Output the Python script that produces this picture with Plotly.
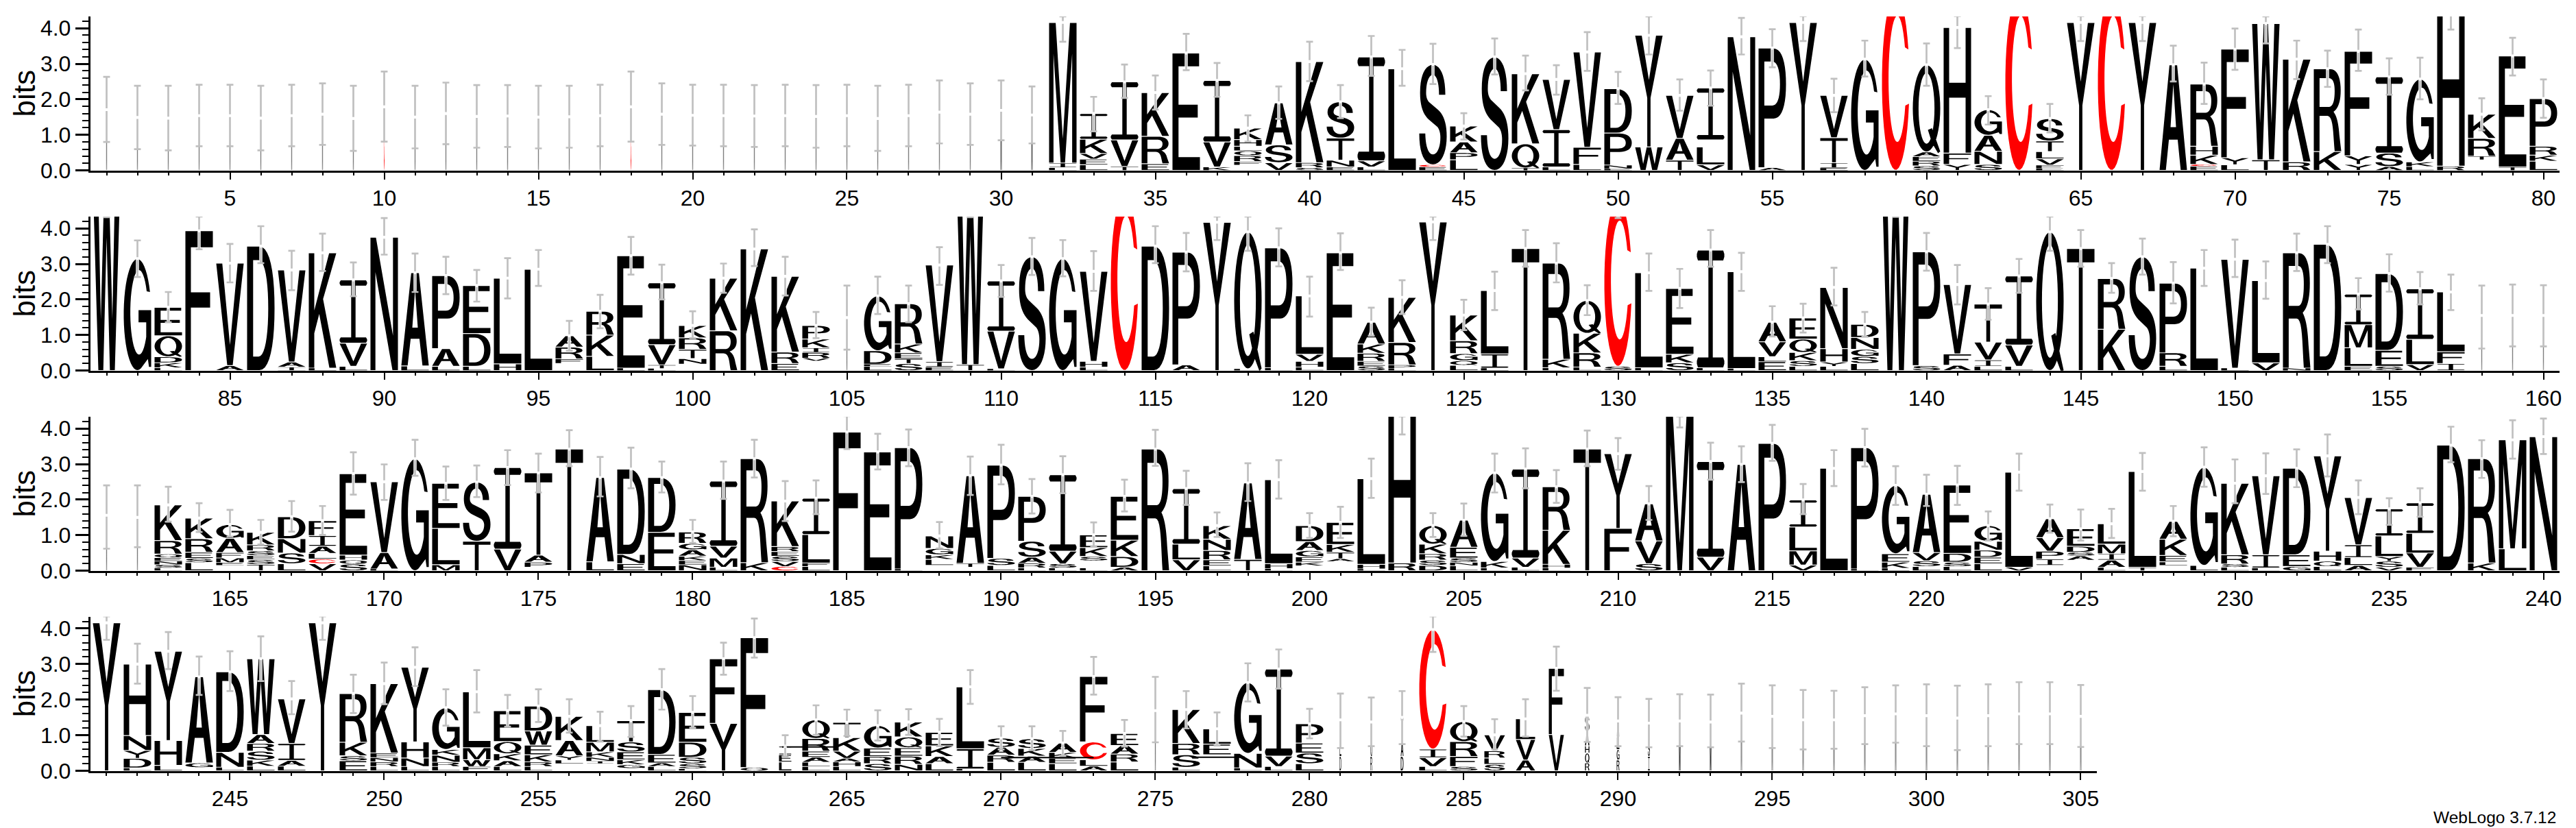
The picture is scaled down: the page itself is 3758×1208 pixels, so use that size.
import math
import plotly.graph_objects as go

# ---------------------------------------------------------------- data
# one string per position, letters listed bottom-to-top (" " = empty gap in the stack)
r1_letters = ["M","M","M","M","M","M","M","M","M","C","M","M","M","M","M","M","M","C","M","M","M","M","M","M","M","M","M","M","M","M","M",
 "LIM","LEVKI","TVI","ERK","E","KVI"," FRQLHK","VSA","SRK","ENTS","LVI","L","ECS","LPAK","S","TQK","LIV","LFV","ENPD","WY","TAV","VL I","N","AP","Y","EITV","G","C","SREAQ","YFH","SNAG","C","EFVLTS","Y","C","Y","A","ECKHR","LYF","TW","RK","KR","YYF","ASI","LKG","RH"," TRK","TE","LKRP"]
r1_bits = [[1.71],[1.49],[1.47],[1.54],[1.54],[1.47],[1.54],[1.58],[1.46],[1.79],[1.5],[1.6],[1.52],[1.53],[1.5],[1.51],[1.54],[1.79],[1.58],[1.55],[1.54],[1.53],[1.54],[1.52],[1.54],[1.46],[1.54],[1.64],[1.58],[1.69],[1.56],
 [.08,.13,3.95],[.16,.16,.16,.4,.72],[.11,.75,1.63],[.19,.77,1.23],[3.3],[.1,.7,1.73],[.15,.1,.17,.13,.13,.19,.32],[.22,.5,1.18],[.08,.14,2.84],[.1,.19,.62,1.02],[.1,.17,2.92],[2.86],[.1,.06,2.82],[.3,.2,.3,.45],[3.19],[.07,.68,1.97],[.1,1.05,1.41],[.17,.48,2.68],[.05,.1,.9,1.25],[.66,3.14],[.29,.61,1.21],[.16,.5,.2,1.46],[3.76],[.08,3.36],[4.16],[.07,.15,.7,1.19],[3.13],[4.95],[.13,.13,.13,.13,2.45],[.17,.32,3.53],[.17,.37,.45,.72],[4.95],[.06,.09,.18,.2,.3,.63],[4.16],[4.95],[4.16],[2.97],[.12,.05,.26,.25,1.75],[.16,.2,3.05],[.3,3.83],[.24,2.89],[.53,2.33],[.17,.24,2.94],[.11,.38,2.14],[.11,.13,2.33],[.12,4.36],[.3,.1,.5,.68],[.1,3.12],[.26,.17,.25,1.34]]
r1_high = [2.63,2.38,2.38,2.41,2.41,2.38,2.41,2.45,2.38,2.78,2.38,2.47,2.40,2.40,2.38,2.38,2.41,2.78,2.45,2.41,2.41,2.40,2.41,2.40,2.41,2.38,2.41,2.53,2.45,2.53,2.36,
 4.33,2.07,2.98,2.67,3.84,3.02,1.55,2.36,3.62,2.40,3.78,3.39,3.56,1.61,3.71,3.23,2.96,3.89,2.77,4.33,2.56,2.81,4.29,3.97,4.34,2.58,3.65,5.4,3.57,4.34,2.09,5.4,1.87,4.34,5.4,4.34,3.51,3.03,3.99,4.33,3.65,3.37,3.96,3.15,3.17,4.9,2.03,3.73,2.56]
r1_low = [.80,.60,.565,.68,.68,.565,.68,.72,.55,.81,.62,.74,.64,.66,.62,.64,.68,.81,.72,.70,.68,.66,.68,.64,.68,.55,.68,.76,.72,.85,.76,
 3.62,1.10,2.04,1.71,2.82,2.07,.81,1.45,2.51,1.47,2.66,2.38,2.43,.87,2.70,2.25,2.13,2.80,1.87,3.26,1.68,1.82,3.26,2.90,3.64,1.64,2.64,4.47,2.38,3.44,1.29,4.47,1.07,3.64,4.47,3.64,2.5,1.87,2.83,3.57,2.57,2.35,2.80,2.13,2.0,3.96,1.13,2.67,1.48]

r2_letters = ["W","G","LKDQE","F","AV","D","IAV","LK","LVI","N","LA","LAP","LDE","HL","L"," FRA","LKR","LE","LTVI"," NTRK","RK","K","ERK"," VRIKP","M","LEDG","STEKR","EIV","TW","LVI","S","G","LHV","C","D","AP","Y","LQ","LP","LHVL","E","SERKA","LPRK","Y","LQGRK","LIL","T","LKR","LRKQ","SC","LL","SKE","LI","LL","ELVA","LSKQE","LYHN","LSGND","W","SP","AFV","LIVT","LVI","Q","T","KR","S","LRP","L","LV","VL","NR","D","ELMI","SED","VLI","IFL","M","M","M"]
r2_bits = [[5.35],[3.15],[.08,.14,.17,.59,.8],[3.93],[.14,2.88],[3.5],[.1,.14,2.59],[.07,3.24],[.12,.65,1.78],[3.75],[.13,2.62],[.12,.5,2.05],[.12,.92,1.35],[.19,2.41],[2.85],[.2,.13,.33,.32],[.4,.6,.67],[.07,3.16],[.06,.1,.57,1.74],[.18,.16,.26,.32,.35],[1.12,1.48],[3.42],[.2,.32,2.13],[.27,.08,.16,.13,.25,.38],[1.49],[.12,.06,.38,1.54],[.2,.13,.17,.25,1.13],[.1,.15,2.72],[.17,5.18],[.05,1.06,1.41],[3.2],[3.15],[.1,.16,2.53],[4.96],[3.5],[.16,3.17],[4.17],[.05,3.85],[.08,3.37],[.1,.16,.2,1.64],[3.31],[.13,.13,.23,.26,.61],[.06,.1,.63,1.27],[4.18],[.15,.13,.2,.36,.72],[.07,.4,1.78],[3.43],[.08,.24,2.7],[.1,.4,.55,.92],[.12,4.67],[.08,2.67],[.22,.24,1.85],[.08,3.31],[.06,2.72],[.25,.14,.42,.55],[.12,.16,.23,.38,.59],[.12,.12,.38,1.72],[.2,.2,.2,.33,.37],[5.35],[.14,3.2],[.15,.32,1.95],[.12,.18,.5,1.07],[.12,.6,1.94],[3.9],[3.43],[1.16,1.43],[3.2],[.12,.38,1.96],[2.88],[.07,3.06],[.22,2.31],[.07,3.24],[3.55],[.12,.52,.65,.86],[.12,.45,2.16],[.17,.71,1.42],[.2,.33,1.68],[1.55],[1.55],[1.55]]
r2_high = [4.78,3.66,2.21,4.33,3.56,4.06,3.37,3.85,3.04,4.29,3.29,3.2,2.83,3.16,3.39,1.4,2.13,3.76,2.98,1.67,3.01,3.97,3.2,1.65,2.39,2.64,2.39,3.47,4.78,2.97,3.73,3.67,3.36,4.8,4.06,3.87,4.33,4.33,4.0,2.64,3.86,1.77,2.54,4.33,1.99,2.78,3.95,3.58,2.4,4.8,3.29,2.86,3.95,3.31,1.81,1.88,2.89,1.65,4.8,3.87,2.97,2.32,3.14,4.33,3.95,3.02,3.71,3.05,3.39,3.68,3.07,3.85,4.06,2.6,3.27,2.77,2.7,2.39,2.42,2.4]
r2_low = [4.31,2.63,1.36,3.41,2.48,3.02,2.26,2.8,2.09,3.26,2.21,2.15,1.94,2.03,2.38,.56,1.19,2.7,2.0,.91,2.19,2.94,2.11,.91,.59,1.59,1.36,2.41,4.31,2.07,2.69,2.65,2.24,4.45,3.02,2.79,3.67,3.37,2.93,1.52,2.83,.98,1.59,3.67,1.14,1.7,2.92,2.48,1.56,4.29,2.24,1.76,2.92,2.24,.96,1.07,1.83,.95,4.32,2.81,1.86,1.43,2.19,3.37,2.92,2.19,2.7,1.89,2.38,2.63,2.02,2.8,3.02,1.72,2.22,1.86,1.7,.62,.68,.68]

r3_letters = ["M","M","LSNEQRK","LSERK"," EMFAG","TSESRK","LSND","VCLAIF","SQHE","LAV","G","MLE","TS","VI"," PAT","T","LA","END","ED","NEKAGR","LMVI","KR","CVSERK","LFLI","F","E","LP"," LKGN"," TA","LSP","LRASP","LSVI","L SKE","ADKE","R","VLI","LERNK","TA","LHL"," KEGAD"," ATKE","LHL","RH","DSRKQ","LNSEA","LKG","LVI","LHKR","T","FY","SVA","M","VI","A","P","VMLI","L","LP","LKEG","LSVA","LSDE","LEDNG","VL"," IPVA"," ASDE","LAIML","TL"," LEKA","LG","LSRK","LIV","GED","LQHY","ALIV","VSYLI","FVLI","D","KR","LM","N"]
r3_bits = [[1.56],[1.5],[.08,.09,.1,.1,.1,.38,1.0],[.23,.12,.17,.38,.58],[.15,.08,.13,.15,.4,.39],[.18,.13,.12,.13,.17,.35],[.2,.3,.4,.62],[.2,.13,.16,.2,.3,.42],[.19,.11,.14,2.29],[.05,.46,1.99],[3.15],[.17,1.02,1.27],[.83,1.66],[.61,2.29],[.1,.14,.2,2.31],[3.42],[.25,2.37],[.2,.26,2.4],[1.08,1.54],[.17,.12,.12,.18,.18,.32],[.1,.26,.33,1.83],[.23,2.92],[.12,.14,.15,.13,.14,1.28],[.12,.1,.8,1.02],[3.9],[3.34],[.05,3.41],[.15,.17,.13,.18,.35],[.1,.11,2.46],[.15,.2,2.62],[.08,.13,.17,.45,1.26],[.08,.12,.35,2.15],[.08,.2,.12,.25,.36],[.1,.3,.46,1.23],[3.42],[.31,.44,1.56],[.14,.17,.26,.32,.38],[.32,2.15],[.06,.14,2.36],[.14,.1,.15,.18,.25,.45],[.26,.08,.18,.22,.62],[.05,.13,2.41],[.22,4.17],[.15,.15,.18,.27,.52],[.14,.1,.12,.3,.76],[.08,.18,2.49],[.1,.26,2.5],[.08,.1,.96,1.22],[3.42],[1.19,2.1],[.2,.64,1.04],[4.55],[.38,2.69],[2.99],[3.58],[.16,.4,.67,.76],[2.88],[.05,3.41],[.07,.17,.24,1.92],[.12,.16,.23,1.64],[.12,.12,.25,1.92],[.2,.18,.2,.25,.44],[.1,2.67],[.15,.18,.22,.38,.53],[.3,.12,.1,.17,.49],[.1,.2,.18,.27,.57],[.1,2.69],[.15,.1,.18,.46,.5],[.15,2.76],[.1,.09,.26,2.01],[.08,.37,2.22],[.12,.33,2.43],[.12,.15,.28,2.68],[.15,.22,.36,1.33],[.1,.17,.13,.58,.76],[.1,.4,.55,.86],[3.53],[.22,2.93],[.62,3.06],[3.77]]
r3_high = [2.4,2.4,2.36,1.9,1.71,1.43,1.96,1.82,3.33,2.99,3.68,2.93,2.96,3.39,3.29,3.95,3.2,3.46,3.07,1.43,3.07,3.68,2.52,2.54,4.35,3.85,3.97,1.37,3.21,3.54,2.58,3.22,1.36,2.56,3.96,2.81,1.64,3.02,3.11,1.62,1.8,3.15,4.34,1.62,1.89,3.29,3.44,2.83,3.94,3.73,2.38,4.34,3.6,3.5,4.1,2.44,3.39,3.99,2.94,2.7,2.95,1.67,3.29,1.86,1.72,1.74,3.31,1.82,3.47,3.13,3.3,3.41,3.83,2.54,2.04,2.32,4.05,3.67,4.23,4.28]
r3_low = [.62,.66,1.38,1.09,.96,.74,1.1,1.01,2.14,1.99,2.67,1.99,2.07,2.41,2.2,2.94,2.09,2.32,2.2,.78,2.02,2.62,1.4,1.59,3.42,2.85,2.94,.63,2.13,2.43,1.61,2.18,.69,1.67,2.95,1.85,.95,1.96,2.03,.92,.92,2.05,3.83,.95,.98,2.2,2.32,1.91,2.94,2.84,1.43,4.03,2.56,2.49,3.09,1.59,2.38,2.93,1.85,1.82,1.85,.85,2.25,1.07,.85,.92,2.25,.97,2.36,1.9,2.16,2.35,2.65,1.59,1.29,1.52,3.05,2.61,3.15,3.28]

r4_letters = ["Y","LDYNH","LHY"," GA","LND","LKSRAW","LAIV","Y","ESKR","LRNEK","LNHY","LRNKG","FWML","LAKQE","LRKEWD"," LYAK"," INKML"," GKEST","LAED","LSSDE","YF","QF","LEI","LLAERQ","LHAVKT","SREG","NREQK","LAKE","LIL","LRAS","LAKS","LEKA","ALCF","LRAE","M","LSRK"," EL","LNG","LVI","LSEP","DLI","RQG","DAT","LVIC","SFRQ","SLRV","AVL","VF","RQHAS","RGLA","ISK","M","M","M","M","M","M","M","M","M","M","M","M","M","M"]
r4_bits = [[4.16],[.08,.27,.22,.42,2.01],[.15,.7,2.51],[.09,.13,2.42],[.1,.42,2.26],[.13,.17,.25,.22,.25,2.13],[.13,.16,.48,1.25],[4.16],[.28,.14,.38,1.37],[.12,.13,.12,.13,1.95],[.12,.24,.45,2.1],[.12,.12,.2,.16,1.17],[.12,.19,.34,1.57],[.12,.16,.2,.34,.87],[.12,.13,.2,.27,.4,.7],[.2,.1,.12,.43,.68],[.2,.07,.11,.15,.27,.47],[.07,.1,.14,.22,.28,.6],[.12,.1,.24,1.82],[.06,.14,.18,.42,.84],[1.33,1.82],[.09,3.65],[.25,.2,.24],[.12,.12,.14,.17,.36,.52],[.12,.13,.1,.2,.38,.43],[.2,.2,.24,.63],[.18,.23,.24,.3,.42],[.2,.2,.3,.38],[.05,.57,1.74],[.24,.2,.22,.26],[.24,.17,.22,.27],[.2,.16,.16,.26],[.13,.18,.5,1.84],[.25,.22,.24,.34],[1.69],[.1,.35,.32,.95],[.45,.3,.43],[.08,.41,1.99],[.12,.29,2.45],[.2,.3,.28,.54],[.4,.5,.53],[.4,.4,.57],[.4,.4,.7],[.12,.25,.24,3.36],[.12,.28,.42,.56],[.18,.18,.2,.45],[.3,.58,.58],[1.02,1.86],[.22,.28,.2,.4,.46],[.3,.3,.35,.45],[.4,.45,.49],[1.4],[1.37],[1.62],[1.53],[1.43],[1.43],[1.55],[1.6],[1.55],[1.48],[1.55],[1.6],[1.6],[1.53]]
r4_high = [4.34,3.57,3.9,3.21,3.36,3.78,2.52,4.34,2.7,3.04,3.47,2.29,2.83,2.13,2.29,2.01,1.66,1.82,2.86,2.1,3.6,4.28,1.0,1.84,1.72,1.7,1.73,1.46,2.83,1.25,1.25,1.12,3.2,1.43,2.64,2.24,1.64,3.02,3.41,1.74,2.17,2.06,2.24,4.34,1.82,1.45,2.01,3.49,2.33,2.07,2.02,2.15,2.14,2.45,2.4,2.27,2.25,2.35,2.4,2.43,2.39,2.43,2.49,2.49,2.41]
r4_low = [3.68,2.45,2.86,2.13,2.24,2.52,1.59,3.68,1.62,1.87,2.38,1.27,1.64,1.24,1.37,1.07,.82,.95,1.72,1.21,2.7,3.18,.4,1.01,.98,.85,1.01,.69,1.88,.6,.58,.42,2.14,.68,.8,1.19,.71,1.95,2.31,.91,.64,.69,.75,3.34,.96,.6,.96,2.25,.81,.69,.66,.69,.66,.82,.64,.6,.62,.75,.79,.69,.58,.69,.75,.75,.67]

# stacks narrower than a full column: first position, last position, relative width
narrow_first = [1, 30, 105, 158, 263, 275, 281, 283, 286, 287, 288, 289, 290, 291, 294]
narrow_last = [29, 31, 105, 162, 263, 275, 282, 283, 286, 287, 288, 289, 290, 293, 305]
narrow_width = [.03, .05, .03, .03, .45, .03, .06, .1, .75, .7, .55, .16, .1, .07, .04]

# very flat stretched glyphs in row 4
flat_start = [262.9, 270.0, 276.2]
flat_end = [264.7, 273.0, 277.9]
flat_bits = [.67, .37, .38]

row_first = [1, 81, 161, 241]
row_last = [80, 160, 240, 305]
row_baseline_px = [248.7, 540.7, 832.7, 1124.5]
tick_labels_font = "Liberation Sans"
rows = [(r1_letters, r1_bits, r1_high, r1_low), (r2_letters, r2_bits, r2_high, r2_low),
        (r3_letters, r3_bits, r3_high, r3_low), (r4_letters, r4_bits, r4_high, r4_low)]

# ---------------------------------------------------------------- glyph outlines (unit box)
def bez(p0, c1, c2, p3, n=10):
    out = []
    for k in range(1, n + 1):
        t = k / n
        u = 1 - t
        out.append((u**3*p0[0] + 3*u*u*t*c1[0] + 3*u*t*t*c2[0] + t**3*p3[0],
                    u**3*p0[1] + 3*u*u*t*c1[1] + 3*u*t*t*c2[1] + t**3*p3[1]))
    return out

def path(start, *segs):
    pts = [start]
    for s in segs:
        if len(s) == 3:
            pts += bez(pts[-1], s[0], s[1], s[2])
        else:
            pts.append(s[0])
    return pts

def arc(cx, cy, rx, ry, a0, a1, n=36):
    return [(cx + rx*math.cos(math.radians(a0 + (a1-a0)*k/n)),
             cy + ry*math.sin(math.radians(a0 + (a1-a0)*k/n))) for k in range(n + 1)]

GLYPHS = {
 "A": ([[(0,0),(.36,1),(.64,1),(1,0),(.77,0),(.66,.29),(.34,.29),(.23,0)]], [[(.40,.41),(.5,.82),(.60,.41)]]),
 "C": ([arc(.5,.5,.5,.5,22,346) + arc(.56,.52,.32,.36,335,30)], []),
 "D": ([path((0,0),[(0,1)],[(.45,1)],[(.82,1),(1,.8),(1,.5)],[(1,.2),(.82,0),(.45,0)])],
       [path((.22,.11),[(.42,.11)],[(.65,.11),(.77,.28),(.77,.5)],[(.77,.72),(.65,.89),(.42,.89)],[(.22,.89)])]),
 "E": ([[(0,0),(0,1),(.97,1),(.97,.89),(.22,.89),(.22,.56),(.92,.56),(.92,.45),(.22,.45),(.22,.11),(1,.11),(1,0)]], []),
 "F": ([[(0,0),(0,1),(1,1),(1,.885),(.2,.885),(.2,.56),(.9,.56),(.9,.45),(.2,.45),(.2,0)]], []),
 "G": ([arc(.5,.5,.5,.5,24,285) + [(.88,.1),(.92,.03),(1,.03),(1,.54),(.54,.54),(.54,.43),(.82,.43),(.82,.3)] + arc(.56,.52,.32,.38,320,30)], []),
 "H": ([[(0,0),(0,1),(.2,1),(.2,.56),(.8,.56),(.8,1),(1,1),(1,0),(.8,0),(.8,.44),(.2,.44),(.2,0)]], []),
 "I": ([[(.04,0),(.96,0),(1,.03),(1,.055),(.96,.085),(.58,.085),(.58,.915),(.96,.915),(1,.945),(1,.97),(.96,1),(.04,1),(0,.97),(0,.945),(.04,.915),(.42,.915),(.42,.085),(.04,.085),(0,.055),(0,.03)]], []),
 "K": ([[(0,0),(0,1),(.2,1),(.2,.5),(.74,1),(1,1),(.52,.6),(1,0),(.75,0),(.38,.47),(.2,.3),(.2,0)]], []),
 "L": ([[(0,0),(0,1),(.21,1),(.21,.115),(1,.115),(1,0)]], []),
 "M": ([[(0,0),(0,1),(.24,1),(.5,.17),(.76,1),(1,1),(1,0),(.84,0),(.84,.78),(.58,0),(.42,0),(.16,.78),(.16,0)]], []),
 "N": ([[(0,0),(0,1),(.2,1),(.82,.26),(.82,1),(1,1),(1,0),(.8,0),(.18,.74),(.18,0)]], []),
 "P": ([path((0,0),[(0,1)],[(.55,1)],[(.85,1),(1,.88),(1,.7)],[(1,.52),(.85,.41),(.55,.41)],[(.21,.41)],[(.21,0)])],
       [path((.21,.89),[(.5,.89)],[(.68,.89),(.78,.82),(.78,.7)],[(.78,.58),(.68,.52),(.5,.52)],[(.21,.52)])]),
 "Q": ([arc(.5,.5,.5,.5,0,360,48), [(.55,.25),(.7,.27),(1,.0),(.92,-.02),(.7,.1)]], [arc(.5,.5,.29,.41,0,360,40)]),
 "R": ([path((0,0),[(0,1)],[(.6,1)],[(.85,1),(.98,.9),(.98,.74)],[(.98,.6),(.88,.52),(.72,.48)],[(.85,.42),(.9,.33),(.93,.2)],[(1,0)],[(.76,0)],[(.7,.2),(.72,.43),(.5,.43)],[(.21,.43)],[(.21,0)])],
       [path((.21,.89),[(.55,.89)],[(.7,.89),(.76,.83),(.76,.73)],[(.76,.62),(.7,.54),(.55,.54)],[(.21,.54)])]),
 "S": ([path((.95,.70),[(.95,.90),(.75,1),(.50,1)],[(.22,1),(.03,.90),(.03,.72)],[(.03,.58),(.15,.50),(.35,.45)],[(.65,.38)],[(.72,.36),(.77,.32),(.77,.27)],[(.77,.17),(.65,.10),(.5,.10)],[(.33,.10),(.23,.18),(.22,.31)],[(0,.31)],[(0,.10),(.2,0),(.5,0)],[(.8,0),(1,.12),(1,.28)],[(1,.42),(.88,.50),(.68,.55)],[(.38,.62)],[(.30,.64),(.25,.67),(.25,.72)],[(.25,.83),(.36,.90),(.5,.90)],[(.63,.90),(.72,.82),(.72,.70)])], []),
 "T": ([[(.43,0),(.43,.89),(0,.89),(0,1),(1,1),(1,.89),(.57,.89),(.57,0)]], []),
 "V": ([[(0,1),(.22,1),(.5,.2),(.78,1),(1,1),(.6,0),(.4,0)]], []),
 "W": ([[(0,1),(.19,1),(.29,.27),(.42,1),(.58,1),(.71,.27),(.81,1),(1,1),(.8,0),(.62,0),(.5,.7),(.38,0),(.2,0)]], []),
 "Y": ([[(.44,0),(.44,.44),(0,1),(.24,1),(.5,.6),(.76,1),(1,1),(.56,.44),(.56,0)]], []),
}

def area(c):
    return sum(c[i][0]*c[(i+1) % len(c)][1] - c[(i+1) % len(c)][0]*c[i][1] for i in range(len(c)))

def oriented(c, positive):
    return c if (area(c) > 0) == positive else c[::-1]

FULL_WIDTH = .89
CAP = .11
GAP = .04

def column_width(p):
    for a, b, w in zip(narrow_first, narrow_last, narrow_width):
        if a <= p <= b:
            return w
    return 1.0

# ---------------------------------------------------------------- figure
fig = go.Figure()
PX_PER_BIT = 51.9
X0 = 155.5
PITCH = 45.0
W, H = 3758, 1208

for r, (letters, bits, high, low) in enumerate(rows):
    first, last = row_first[r], row_last[r]
    n = last - first + 1
    assert len(letters) == n and len(bits) == n and len(high) == n and len(low) == n, (r, len(letters), len(bits), len(high), len(low))
    sfx = "" if r == 0 else str(r + 1)
    bx, by, rx, ry = [], [], [], []
    hx, hy, gx, gy = [], [], [], []
    for i in range(n):
        p = first + i
        assert len(letters[i]) == len(bits[i]), (p, letters[i], bits[i])
        w = column_width(p) * FULL_WIDTH
        base = 0.0
        for ch, h in zip(letters[i], bits[i]):
            if ch != " ":
                solids, holes = GLYPHS[ch]
                ins = min(.012, h * .08)
                for c, pos in [(s, True) for s in solids] + [(s, False) for s in holes]:
                    for x, y in oriented(c, pos):
                        xs = p + w * (x - .5)
                        ys = base + ins + (h - 2*ins) * y
                        if ch == "C":
                            rx.append(xs); ry.append(ys)
                        else:
                            bx.append(xs); by.append(ys)
                    if ch == "C":
                        rx.append(None); ry.append(None)
                    else:
                        bx.append(None); by.append(None)
            base += h
        mid = base
        if low[i] < mid < high[i]:
            hx += [p, p, None]; hy += [mid, low[i], None]
            gx += [p, p, None, p, p, None]
            gy += [high[i], mid + GAP, None, mid - GAP, low[i], None]
        else:
            gx += [p, p, None]; gy += [high[i], low[i], None]
        for v in (high[i], low[i]):
            gx += [p - CAP, p + CAP, None]; gy += [v, v, None]

    common = dict(xaxis="x" + sfx, yaxis="y" + sfx, cliponaxis=False, hoverinfo="skip", showlegend=False, mode="lines")
    fig.add_trace(go.Scatter(x=bx, y=by, fill="toself", fillcolor="#000000", line=dict(width=0, color="#000000", simplify=False), **common))
    fig.add_trace(go.Scatter(x=rx, y=ry, fill="toself", fillcolor="#ff0000", line=dict(width=0, color="#ff0000", simplify=False), **common))
    if r == 3:
        fx, fy = [], []
        for a, b, v in zip(flat_start, flat_end, flat_bits):
            fx += [a, b, None]; fy += [v, v, None]
        fig.add_trace(go.Scatter(x=fx, y=fy, line=dict(width=2, color="#000000"), **common))
    fig.add_trace(go.Scatter(x=hx, y=hy, line=dict(width=4.5, color="#ffffff"), **common))
    fig.add_trace(go.Scatter(x=gx, y=gy, line=dict(width=2.7, color="#c0c0c0"), **common))

    x_lo = first - .533
    x_hi = last + .533
    left = X0 - .533 * PITCH
    right = X0 + (n - 1 + .533) * PITCH
    B = row_baseline_px[r]
    top = B - 224.7
    tickfont = dict(family=tick_labels_font, size=32, color="#000000")
    fig.update_layout({
        "xaxis" + sfx: dict(
            domain=[left / W, right / W], range=[x_lo, x_hi], anchor="y" + sfx,
            tickmode="linear", tick0=0, dtick=5, ticks="outside", ticklen=10, tickwidth=2, tickcolor="#000000",
            minor=dict(tick0=0, dtick=1, ticks="outside", ticklen=4, tickwidth=2, tickcolor="#000000", showgrid=False),
            showline=True, linewidth=3, linecolor="#000000", showgrid=False, zeroline=False,
            tickfont=tickfont),
        "yaxis" + sfx: dict(
            domain=[1 - B / H, 1 - top / H], range=[0, 224.7 / PX_PER_BIT], anchor="x" + sfx,
            tickmode="linear", tick0=0, dtick=1, tickformat=".1f", ticks="outside", ticklen=19, tickwidth=2.5, tickcolor="#000000",
            minor=dict(tick0=0, dtick=.2, ticks="outside", ticklen=9, tickwidth=2, tickcolor="#000000", showgrid=False),
            showline=True, linewidth=2.5, linecolor="#000000", showgrid=False, zeroline=False,
            tickfont=tickfont),
    })
    fig.add_annotation(text="bits", xref="paper", yref="paper", x=35 / W, y=1 - (B - 112.3) / H,
                       xanchor="center", yanchor="middle", showarrow=False, textangle=-90,
                       font=dict(family=tick_labels_font, size=44, color="#000000"))

fig.add_annotation(text="WebLogo 3.7.12", xref="paper", yref="paper", x=3731 / W, y=1 - 1192 / H,
                   xanchor="right", yanchor="middle", showarrow=False,
                   font=dict(family=tick_labels_font, size=24.5, color="#000000"))

fig.update_layout(width=W, height=H, margin=dict(l=0, r=0, t=0, b=0, autoexpand=False),
                  paper_bgcolor="#ffffff", plot_bgcolor="#ffffff", showlegend=False)

fig.write_html("out.html", config={"displayModeBar": False},
               post_script="document.body.style.margin='0';document.body.style.overflow='hidden';")
